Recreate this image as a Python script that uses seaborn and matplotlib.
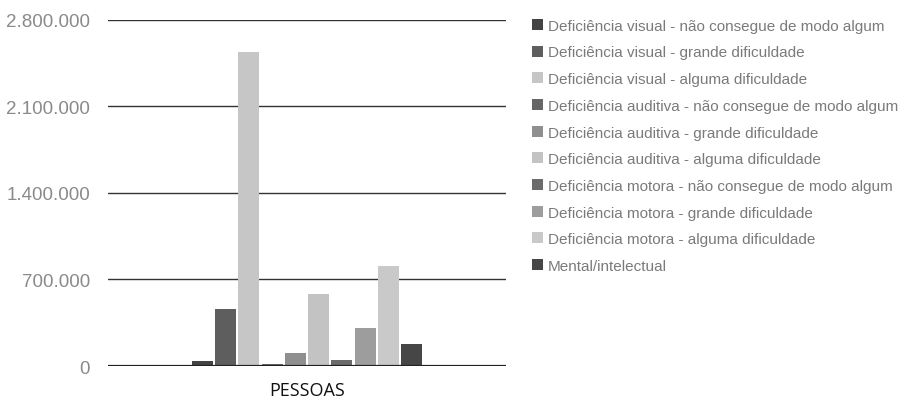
import matplotlib
matplotlib.use("Agg")
import matplotlib.pyplot as plt
import seaborn as sns
import pandas as pd

categories = ["PESSOAS"]
series = [
    "Deficiência visual - não consegue de modo algum",
    "Deficiência visual - grande dificuldade",
    "Deficiência visual - alguma dificuldade",
    "Deficiência auditiva - não consegue de modo algum",
    "Deficiência auditiva - grande dificuldade",
    "Deficiência auditiva - alguma dificuldade",
    "Deficiência motora - não consegue de modo algum",
    "Deficiência motora - grande dificuldade",
    "Deficiência motora - alguma dificuldade",
    "Mental/intelectual",
]
values = [38000, 460000, 2540000, 14000, 107000, 585000, 51000, 308000, 810000, 180000]
colors = ["#434343", "#5e5e5e", "#c6c6c6", "#666666", "#8f8f8f",
          "#c3c3c3", "#6b6b6b", "#9d9d9d", "#c9c9c9", "#464646"]
y_ticks = [0, 700000, 1400000, 2100000, 2800000]
y_tick_labels = ["0", "700.000", "1.400.000", "2.100.000", "2.800.000"]

df = pd.DataFrame({
    "categoria": categories * len(series),
    "serie": series,
    "valor": values,
})

sns.set_theme(style="white")
plt.rcParams["font.family"] = ["Liberation Sans", "DejaVu Sans"]

fig = plt.figure(figsize=(9.15, 4.02), dpi=100)
ax = fig.add_axes([0.118, 0.087, 0.435, 0.862])

sns.barplot(data=df, x="categoria", y="valor", hue="serie",
            hue_order=series, palette=colors, width=0.585, gap=0.1,
            saturation=1, edgecolor="none", ax=ax)

ax.set_ylim(0, 2800000)
ax.set_xlim(-0.5, 0.5)
ax.set_yticks(y_ticks)
ax.set_yticklabels(y_tick_labels, color="#8a8a8a", fontsize=13.5)
ax.tick_params(axis="y", length=0, pad=13)
ax.tick_params(axis="x", length=0, pad=11)
ax.set_xticks([0])
ax.set_xticklabels(categories, fontsize=13, color="#111111",
                   family=["Open Sans", "DejaVu Sans"])
ax.set_xlabel("")
ax.set_ylabel("")

for t in y_ticks[1:]:
    ax.axhline(t, color="#333333", lw=1.0, zorder=0)
ax.axhline(0, color="#222222", lw=1.6, zorder=3)

for s in ax.spines.values():
    s.set_visible(False)

handles, labels = ax.get_legend_handles_labels()
ax.legend_.remove()
fig.legend(handles, labels, loc="upper left", bbox_to_anchor=(0.575, 0.966),
           frameon=False, fontsize=11, labelcolor="#7a7a7a",
           handlelength=0.72, handleheight=0.72, handletextpad=0.3,
           labelspacing=0.83, borderaxespad=0)

fig.savefig("out.png", dpi=100, facecolor="white")
